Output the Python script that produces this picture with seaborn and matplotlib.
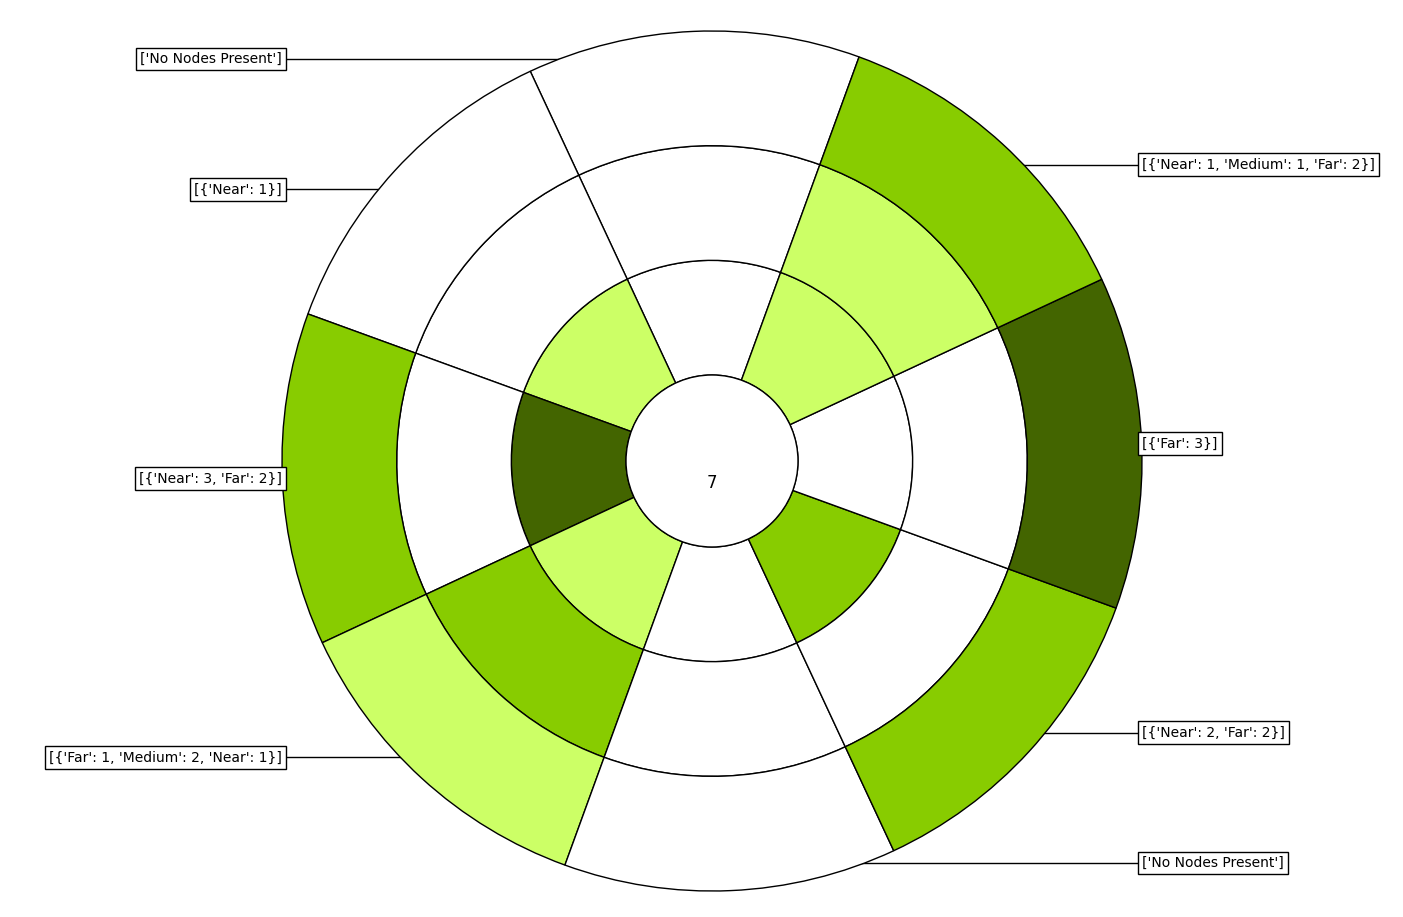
import numpy as np
import matplotlib
matplotlib.use("Agg")
import matplotlib.pyplot as plt
import seaborn as sns

# ---- data ----
node_id = "7"
sector_labels = [
    "['No Nodes Present']",
    "[{'Near': 1}]",
    "[{'Near': 3, 'Far': 2}]",
    "[{'Far': 1, 'Medium': 2, 'Near': 1}]",
    "['No Nodes Present']",
    "[{'Near': 2, 'Far': 2}]",
    "[{'Far': 3}]",
    "[{'Near': 1, 'Medium': 1, 'Far': 2}]",
]
near_counts = [0, 1, 3, 1, 0, 2, 0, 1]
medium_counts = [0, 0, 0, 2, 0, 0, 0, 1]
far_counts = [0, 0, 2, 1, 0, 2, 3, 2]

level_colors = ["#ffffff", "#ccff66", "#88cc00", "#436500"]

sns.set_theme(style="white")
plt.rcParams["font.family"] = ["DejaVu Sans"]
plt.rcParams["text.color"] = "black"

W, H, DPI = 14.03, 9.17, 100
fig = plt.figure(figsize=(W, H), dpi=DPI)
ax = fig.add_axes([0, 0, 1, 1])

start = 70
n = len(sector_labels)
hole = 0.2
ring_w = (1.0 - hole) / 3
rings = [near_counts, medium_counts, far_counts]
wp = dict(edgecolor="black", linewidth=1.0)

for k, counts in enumerate(rings):
    radius = hole + ring_w * (k + 1)
    cols = [level_colors[c] for c in counts]
    ax.pie([1] * n, radius=radius, colors=cols, startangle=start,
           counterclock=True, wedgeprops=dict(width=ring_w, **wp))

ax.add_patch(plt.Circle((0, 0), hole, facecolor="white", edgecolor="black",
                        linewidth=1.0, zorder=2))
ax.text(0, -0.05, node_id, ha="center", va="center", fontsize=12,
        color="black", zorder=3)

step = 360 / n
for i, lab in enumerate(sector_labels):
    ang = np.deg2rad(start + step * i + step / 2)
    x, y = np.cos(ang), np.sin(ang)
    side = 1 if x >= 0 else -1
    ty = 0.935 * y
    tx = side * 1.0
    ax.plot([tx, 0], [ty, ty], color="black", linewidth=1.0, zorder=0)
    ax.text(tx, ty, lab, ha="left" if side > 0 else "right", va="center",
            fontsize=10, color="black", zorder=5,
            bbox=dict(boxstyle="square,pad=0.3", facecolor="white",
                      edgecolor="black", linewidth=1.0))

px_per_unit = 430
cx, cy = 712, 461
ax.set_xlim(-cx / px_per_unit, (W * DPI - cx) / px_per_unit)
ax.set_ylim(-(H * DPI - cy) / px_per_unit, cy / px_per_unit)
ax.set_aspect("equal", adjustable="datalim")
ax.axis("off")

fig.savefig("out.png", dpi=DPI)
